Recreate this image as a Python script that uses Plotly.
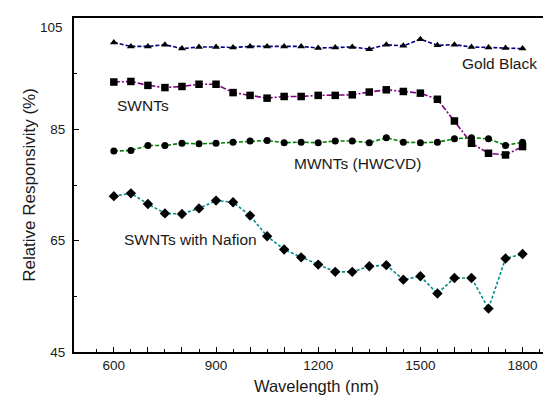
import plotly.graph_objects as go

wavelength = [600, 650, 700, 750, 800, 850, 900, 950, 1000, 1050, 1100, 1150, 1200,
              1250, 1300, 1350, 1400, 1450, 1500, 1550, 1600, 1650, 1700, 1750, 1800]

gold_black = [100.6, 99.9, 99.9, 100.2, 99.5, 99.8, 99.8, 99.7, 99.9, 99.9, 99.9, 99.9, 99.6,
              99.7, 99.8, 99.4, 100.2, 100.0, 101.2, 100.1, 100.2, 99.8, 99.7, 99.6, 99.5]

swnts = [93.5, 93.6, 92.9, 92.5, 92.7, 93.1, 93.1, 91.6, 91.1, 90.6, 90.9, 90.9, 91.1,
         91.1, 91.2, 91.7, 92.1, 91.8, 91.5, 90.4, 86.5, 82.5, 80.7, 80.4, 81.9]

mwnts = [81.1, 81.2, 82.1, 82.1, 82.5, 82.4, 82.5, 82.7, 82.9, 83.0, 82.6, 82.7, 82.6,
         82.9, 82.9, 82.6, 83.5, 82.7, 82.6, 82.7, 83.3, 83.5, 83.3, 82.1, 82.7]

swnts_nafion = [73.0, 73.5, 71.6, 69.9, 69.8, 70.8, 72.2, 71.9, 69.5, 65.8, 63.4, 62.0, 60.7,
                59.4, 59.4, 60.4, 60.6, 58.0, 58.6, 55.5, 58.3, 58.3, 52.8, 61.8, 62.6]

x_tickvals = [600, 700, 800, 900, 1000, 1100, 1200, 1300, 1400, 1500, 1600, 1700, 1800]
x_ticktext = ["600", "", "", "900", "", "", "1200", "", "", "1500", "", "", "1800"]
x_minorvals = [550, 650, 750, 850, 950, 1050, 1150, 1250, 1350, 1450, 1550, 1650, 1750, 1850]
y_tickvals = [45, 65, 85, 105]
y_ticktext = ["45", "65", "85", "105"]
y_minorvals = [55, 75, 95]

series = [
    ("Gold Black", gold_black, "#000080", "4px,2px", "triangle-up", 7),
    ("SWNTs", swnts, "#800080", "6px,2px,2px,2px", "square", 7.5),
    ("MWNTs (HWCVD)", mwnts, "#008000", "4px,2px", "circle", 7),
    ("SWNTs with Nafion", swnts_nafion, "#008B8B", "3px,2px", "diamond", 8),
]

labels = [
    ("Gold Black", 1733, 96.8),
    ("SWNTs", 685, 89.3),
    ("MWNTs (HWCVD)", 1316, 78.9),
    ("SWNTs with Nafion", 824, 65.2),
]

font_family = "Liberation Sans, Arial"
text_color = "#1a1a1a"

fig = go.Figure()
for name, vals, color, dash, sym, size in series:
    fig.add_trace(go.Scatter(
        x=wavelength, y=vals, mode="lines+markers", name=name,
        line=dict(color=color, width=1.6, dash=dash),
        marker=dict(symbol=sym, size=size, color="black"),
        showlegend=False,
    ))

for text, xv, yv in labels:
    fig.add_annotation(x=xv, y=yv, text=text, showarrow=False,
                       font=dict(family=font_family, size=15.5, color=text_color),
                       bgcolor="white", borderpad=1)

# top tick label sits just below the frame, as in the reference
fig.add_annotation(x=0, xref="paper", y=y_tickvals[-1], yref="y", text=y_ticktext[-1],
                   showarrow=False, xanchor="right", yanchor="middle",
                   xshift=-9, yshift=-9,
                   font=dict(family=font_family, size=13.5, color=text_color))
y_ticktext_axis = y_ticktext[:-1] + [""]

fig.update_layout(
    width=551, height=396,
    margin=dict(l=66, r=0, t=10, b=52),
    plot_bgcolor="white", paper_bgcolor="white",
    font=dict(family=font_family, color=text_color),
    xaxis=dict(
        range=[483, 1907], automargin=False,
        tickmode="array", tickvals=x_tickvals, ticktext=x_ticktext,
        ticks="inside", ticklen=5, tickwidth=1.2, tickcolor="black",
        minor=dict(tickmode="array", tickvals=x_minorvals, ticks="inside", ticklen=3,
                   tickwidth=1, tickcolor="black"),
        showline=True, linecolor="black", linewidth=1.8, mirror=True,
        showgrid=False, zeroline=False,
        tickfont=dict(size=13.5, color=text_color),
        title=dict(text="Wavelength (nm)", font=dict(size=16.5, color=text_color), standoff=8),
    ),
    yaxis=dict(
        range=[45, 105], automargin=False,
        tickmode="array", tickvals=y_tickvals, ticktext=y_ticktext_axis,
        ticks="inside", ticklen=5, tickwidth=1.2, tickcolor="black",
        minor=dict(tickmode="array", tickvals=y_minorvals, ticks="inside", ticklen=3,
                   tickwidth=1, tickcolor="black"),
        showline=True, linecolor="black", linewidth=1.8, mirror=False,
        showgrid=False, zeroline=False,
        tickfont=dict(size=13.5, color=text_color),
        ticklabelstandoff=4,
        title=dict(text="Relative Responsivity (%)", font=dict(size=17, color=text_color), standoff=10),
    ),
)

fig.write_html("out.html")
